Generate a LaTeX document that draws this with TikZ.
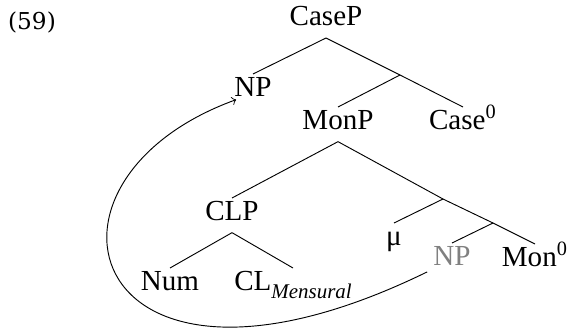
\documentclass[tikz,border=0pt]{standalone}
\usepackage{fontspec}
\setmainfont{Liberation Serif}
\newfontfamily\exfont{DejaVu Serif}
\usetikzlibrary{calc}

\begin{document}
\begin{tikzpicture}[x=0.43pt, y=-0.43pt,
    lbl/.style={inner sep=2.5pt, text height=0.68em, text depth=0.27em, font=\fontsize{12.5pt}{15pt}\selectfont},
    kid/.style={lbl, anchor=north}]

    \useasboundingbox (0,0) rectangle (569,334);

    % example number
    \node[font=\exfont\fontsize{10pt}{12pt}\selectfont] at (32,22) (ex) {(59)};

    % nodes
    \node[lbl, anchor=south] at (326,38) (casep) {CaseP};
    \node[kid] at (253,74) (np) {NP};
    \coordinate (x1) at (400,75);
    \node[kid] at (338,107) (monp) {MonP};
    \node[kid] at (463,107) (case0) {Case\textsuperscript{0}};
    \node[kid] at (232,198) (clp) {CLP};
    \coordinate (x2) at (443,199);
    \node[kid] at (394,223) (mu) {μ};
    \coordinate (x3) at (493,223);
    \node[kid, text=black!50] at (452,243) (gnp) {NP};
    \node[kid] at (535,244) (mon0) {Mon\textsuperscript{0}};
    \node[kid] at (170,268) (num) {Num};
    \node[kid] at (293,268) (clm) {CL\raisebox{-0.28em}{\fontsize{9pt}{10pt}\selectfont\itshape Mensural}};

    % branches
    \draw (casep.south) -- (np.north); % CaseP -> NP
    \draw (casep.south) -- (x1) -- (case0.north); % CaseP -> Case0
    \draw (x1) -- (monp.north); % -> MonP
    \draw (monp.south) -- (clp.north); % MonP -> CLP
    \draw (monp.south) -- (x2) -- (x3) -- (mon0.north); % MonP -> Mon0
    \draw (x2) -- (mu.north); % -> mu
    \draw (x3) -- (gnp.north); % -> NP (copy)
    \draw (clp.south) -- (num.north); % CLP -> Num
    \draw (clp.south) -- (clm.north); % CLP -> CL

    % movement
    \draw[->] (gnp.205) .. controls +(-342,167) and +(-226,82) .. ($(np.south west)+(8,-9)$); % NP -> NP

\end{tikzpicture}
\end{document}
